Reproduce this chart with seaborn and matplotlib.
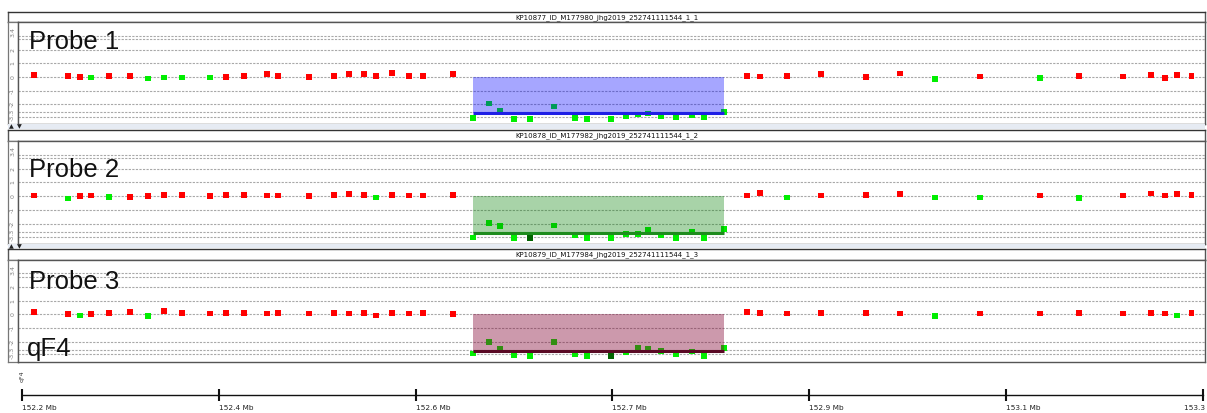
import numpy as np
import pandas as pd
import matplotlib
matplotlib.use("Agg")
import matplotlib.pyplot as plt
import seaborn as sns
from matplotlib.patches import Rectangle

sns.set_style("white")
plt.rcParams['font.family'] = ['DejaVu Sans']

# ---------------- data ----------------
positions = [152.2109, 152.2423, 152.2535, 152.2640, 152.2808, 152.3007, 152.3169, 152.3321,
             152.3491, 152.3752, 152.3899, 152.4066, 152.4278, 152.4386, 152.4672, 152.4902,
             152.5042, 152.5188, 152.5297, 152.5449, 152.5604, 152.5735, 152.6014,
             152.6201, 152.6350, 152.6452, 152.6583, 152.6732, 152.6958, 152.7151, 152.7260,
             152.7487, 152.7624, 152.7739, 152.7832, 152.7956, 152.8090, 152.8239, 152.8351,
             152.8543,
             152.8755, 152.8876, 152.9127, 152.9447, 152.9861, 153.0181, 153.0507, 153.0926,
             153.1485, 153.1849, 153.2262, 153.2517, 153.2648, 153.2762, 153.2896]

probe1_values = [0.15, 0.05, 0.00, -0.05, 0.09, 0.05, -0.12, -0.05, -0.05, -0.05, -0.02, 0.05,
                 0.20, 0.09, -0.02, 0.05, 0.20, 0.20, 0.05, 0.29, 0.05, 0.05, 0.20,
                 -3.01, -1.95, -2.50, -3.07, -3.07, -2.17, -2.99, -3.07, -3.07, -2.87, -2.75,
                 -2.68, -2.90, -2.94, -2.82, -2.94, -2.58,
                 0.09, 0.02, 0.09, 0.20, 0.00, 0.24, -0.17, 0.02, -0.07, 0.07, 0.02, 0.15,
                 -0.07, 0.15, 0.09]
probe1_calls = ['gain', 'gain', 'gain', 'loss', 'gain', 'gain', 'loss', 'loss', 'loss', 'loss',
                'gain', 'gain', 'gain', 'gain', 'gain', 'gain', 'gain', 'gain', 'gain', 'gain',
                'gain', 'gain', 'gain'] + ['loss'] * 17 + \
               ['gain', 'gain', 'gain', 'gain', 'gain', 'gain', 'loss', 'gain', 'loss', 'gain',
                'gain', 'gain', 'gain', 'gain', 'gain']

probe2_values = [0.05, -0.17, 0.00, 0.05, -0.07, -0.05, 0.00, 0.09, 0.09, 0.00, 0.10, 0.10,
                 0.05, 0.05, 0.00, 0.10, 0.15, 0.10, -0.10, 0.10, 0.05, 0.05, 0.10,
                 -3.00, -1.95, -2.19, -3.04, -3.04, -2.14, -2.85, -3.04, -3.04, -2.77, -2.77,
                 -2.48, -2.85, -3.04, -2.63, -3.04, -2.41,
                 0.05, 0.25, -0.10, 0.05, 0.10, 0.15, -0.10, -0.10, 0.05, -0.15, 0.05, 0.20,
                 0.05, 0.15, 0.10]
probe2_calls = ['gain', 'loss', 'gain', 'gain', 'loss', 'gain', 'gain', 'gain', 'gain', 'gain',
                'gain', 'gain', 'gain', 'gain', 'gain', 'gain', 'gain', 'gain', 'loss', 'gain',
                'gain', 'gain', 'gain'] + \
               ['loss', 'loss', 'loss', 'loss', 'deep', 'loss', 'loss', 'loss', 'loss', 'loss',
                'loss', 'loss', 'loss', 'loss', 'loss', 'loss', 'loss'] + \
               ['gain', 'gain', 'loss', 'gain', 'gain', 'gain', 'loss', 'loss', 'gain', 'loss',
                'gain', 'gain', 'gain', 'gain', 'gain']

probe3_values = [0.18, 0.04, -0.09, -0.01, 0.11, 0.18, -0.13, 0.23, 0.11, 0.05, 0.10, 0.10,
                 0.05, 0.10, 0.05, 0.10, 0.05, 0.10, -0.10, 0.10, 0.05, 0.10, 0.01,
                 -2.88, -2.06, -2.52, -3.01, -3.05, -2.06, -2.96, -3.05, -3.05, -2.81, -2.50,
                 -2.57, -2.69, -2.96, -2.74, -3.05, -2.50,
                 0.18, 0.09, 0.05, 0.10, 0.10, 0.05, -0.12, 0.05, 0.05, 0.10, 0.05, 0.10,
                 0.05, -0.10, 0.10]
probe3_calls = ['gain', 'gain', 'loss', 'gain', 'gain', 'gain', 'loss', 'gain', 'gain', 'gain',
                'gain', 'gain', 'gain', 'gain', 'gain', 'gain', 'gain', 'gain', 'gain', 'gain',
                'gain', 'gain', 'gain'] + \
               ['loss', 'loss', 'loss', 'loss', 'loss', 'loss', 'loss', 'loss', 'deep', 'loss',
                'loss', 'loss', 'loss', 'loss', 'loss', 'loss', 'loss'] + \
               ['gain', 'gain', 'gain', 'gain', 'gain', 'gain', 'loss', 'gain', 'gain', 'gain',
                'gain', 'gain', 'gain', 'loss', 'gain']

probe_names = ["Probe 1", "Probe 2", "Probe 3"]
sample_titles = ["KP10877_ID_M177980_jhg2019_252741111544_1_1",
                 "KP10878_ID_M177982_jhg2019_252741111544_1_2",
                 "KP10879_ID_M177984_jhg2019_252741111544_1_3"]
band_label = "qF4"

seg_start = [152.6201, 152.6201, 152.6201]
seg_end = [152.8543, 152.8543, 152.8543]
seg_mean = [-2.65, -2.65, -2.66]
seg_fill = ['#0000ff', '#008000', '#800030']
seg_line = ['#1f1fe6', '#1e8c1e', '#5a0a25']
seg_alpha = [0.35, 0.34, 0.40]

grid_levels = [3.0, 2.75, 2, 1, 0, -1, -2, -2.6, -2.95]
strip_ticks = [3.25, 2, 1, 0, -1, -2, -2.8]
strip_labels = ["3.4", "2", "1", "0", "-1", "-2", "-3.3"]

xtick_pos = list(np.linspace(152.2, 153.3, 7))
xtick_labels = ["152.2 Mb", "152.4 Mb", "152.6 Mb", "152.7 Mb", "152.9 Mb", "153.1 Mb", "153.3 Mb"]

call_palette = {'gain': '#ff0000', 'loss': '#00ee00', 'deep': '#006400'}

values_all = [probe1_values, probe2_values, probe3_values]
calls_all = [probe1_calls, probe2_calls, probe3_calls]

# ---------------- layout ----------------
W, H = 1207, 413
fig = plt.figure(figsize=(W / 100, H / 100), dpi=100)


def box(x0, y0, x1, y1):
    return [x0 / W, 1 - y1 / H, (x1 - x0) / W, (y1 - y0) / H]


XL = (152.1963, 153.3023)
YL = (-3.48, 4.01)

panel_rows = [(11.5, 22, 124.5), (130, 141, 244), (248.5, 259.5, 361.7)]
name_baselines = [48.7, 177.3, 289.3]

for i, (t0, t1, b) in enumerate(panel_rows):
    # title bar
    axt = fig.add_axes(box(8, t0, 1205, t1))
    axt.set_xticks([]); axt.set_yticks([])
    for s in axt.spines.values():
        s.set_color('#555555'); s.set_linewidth(1.0)
    axt.spines['top'].set_color('#333333')
    axt.text(0.5, 0.45, sample_titles[i], ha='center', va='center', fontsize=5,
             transform=axt.transAxes, color='#111111')

    # left strip
    axs = fig.add_axes(box(8, t1, 18.3, b))
    axs.set_ylim(YL); axs.set_xlim(0, 1)
    axs.set_xticks([]); axs.set_yticks([])
    for s in axs.spines.values():
        s.set_color('#777777'); s.set_linewidth(0.9)
    for v, lab in zip(strip_ticks, strip_labels):
        axs.text(0.45, v, lab, rotation=90, ha='center', va='center', fontsize=4.5,
                 color='#808080')

    # main panel
    ax = fig.add_axes(box(18.3, t1, 1205, b))
    df = pd.DataFrame({'pos': positions, 'val': values_all[i], 'call': calls_all[i]})
    sns.scatterplot(data=df, x='pos', y='val', hue='call', palette=call_palette,
                    marker='s', s=17, linewidth=0, legend=False, ax=ax, zorder=3)
    ax.fill_between([seg_start[i], seg_end[i]], seg_mean[i], 0, color=seg_fill[i],
                    alpha=seg_alpha[i], linewidth=0, zorder=4)
    ax.hlines(seg_mean[i], seg_start[i], seg_end[i], color=seg_line[i], lw=2.2, zorder=5)
    ax.set_xlim(XL); ax.set_ylim(YL)
    ax.set_yticks(grid_levels)
    ax.set_xticks([])
    ax.tick_params(axis='y', length=0, labelleft=False)
    ax.grid(axis='y', color='#a8a8a8', linestyle=(0, (2, 1.2)), linewidth=0.8, zorder=0)
    ax.set_axisbelow(True)
    ax.set_xlabel(''); ax.set_ylabel('')
    for s in ax.spines.values():
        s.set_color('#555555'); s.set_linewidth(1.0)
    fig.text(29.3 / W, 1 - name_baselines[i] / H, probe_names[i], fontsize=18.5,
             family=['Liberation Sans', 'DejaVu Sans'], color='#111111',
             ha='left', va='baseline', zorder=6)
    if i == 2:
        fig.text(26.7 / W, 1 - 356 / H, band_label, fontsize=18.5,
                 family=['Liberation Sans', 'DejaVu Sans'], color='#111111',
                 ha='left', va='baseline', zorder=6)

    # separator band below panel
    if i < 2:
        fig.patches.append(Rectangle((8 / W, 1 - (b + 4.5) / H), 1197 / W, 4.5 / H,
                                     transform=fig.transFigure, facecolor='#e6ebf3',
                                     edgecolor='none', zorder=0))
        fig.text(9 / W, 1 - (b + 4.2) / H, "\u25b2", fontsize=4.5, color='#222222')
        fig.text(17 / W, 1 - (b + 4.2) / H, "\u25bc", fontsize=4.5, color='#222222')

# bottom chromosome axis
axx = fig.add_axes(box(18.3, 380, 1205, 395))
axx.set_xlim(XL); axx.set_ylim(0, 1)
axx.set_yticks([])
for side in ['top', 'left', 'right']:
    axx.spines[side].set_visible(False)
axx.spines['bottom'].set_color('#111111')
axx.spines['bottom'].set_linewidth(1.0)
axx.spines['bottom'].set_bounds(152.2, 153.3)
axx.set_xticks(xtick_pos)
axx.set_xticklabels(xtick_labels[:-1] + [''], fontsize=5.3, color='#222222')
for lab in axx.get_xticklabels():
    lab.set_horizontalalignment('left')
axx.tick_params(axis='x', bottom=True, direction='inout', length=9, width=1.5, pad=2.5,
                color='#111111')
axx.annotate(xtick_labels[-1], xy=(xtick_pos[-1], 0), xycoords=('data', 'axes fraction'),
             xytext=(-13, -7.2), textcoords='offset points', ha='left', va='top',
             fontsize=5.3, color='#222222', annotation_clip=False)
axx.patch.set_alpha(0)

fig.text(20 / W, 1 - 381 / H, band_label, rotation=90, fontsize=4.5, color='#333333')

fig.savefig("out.png", dpi=100)
